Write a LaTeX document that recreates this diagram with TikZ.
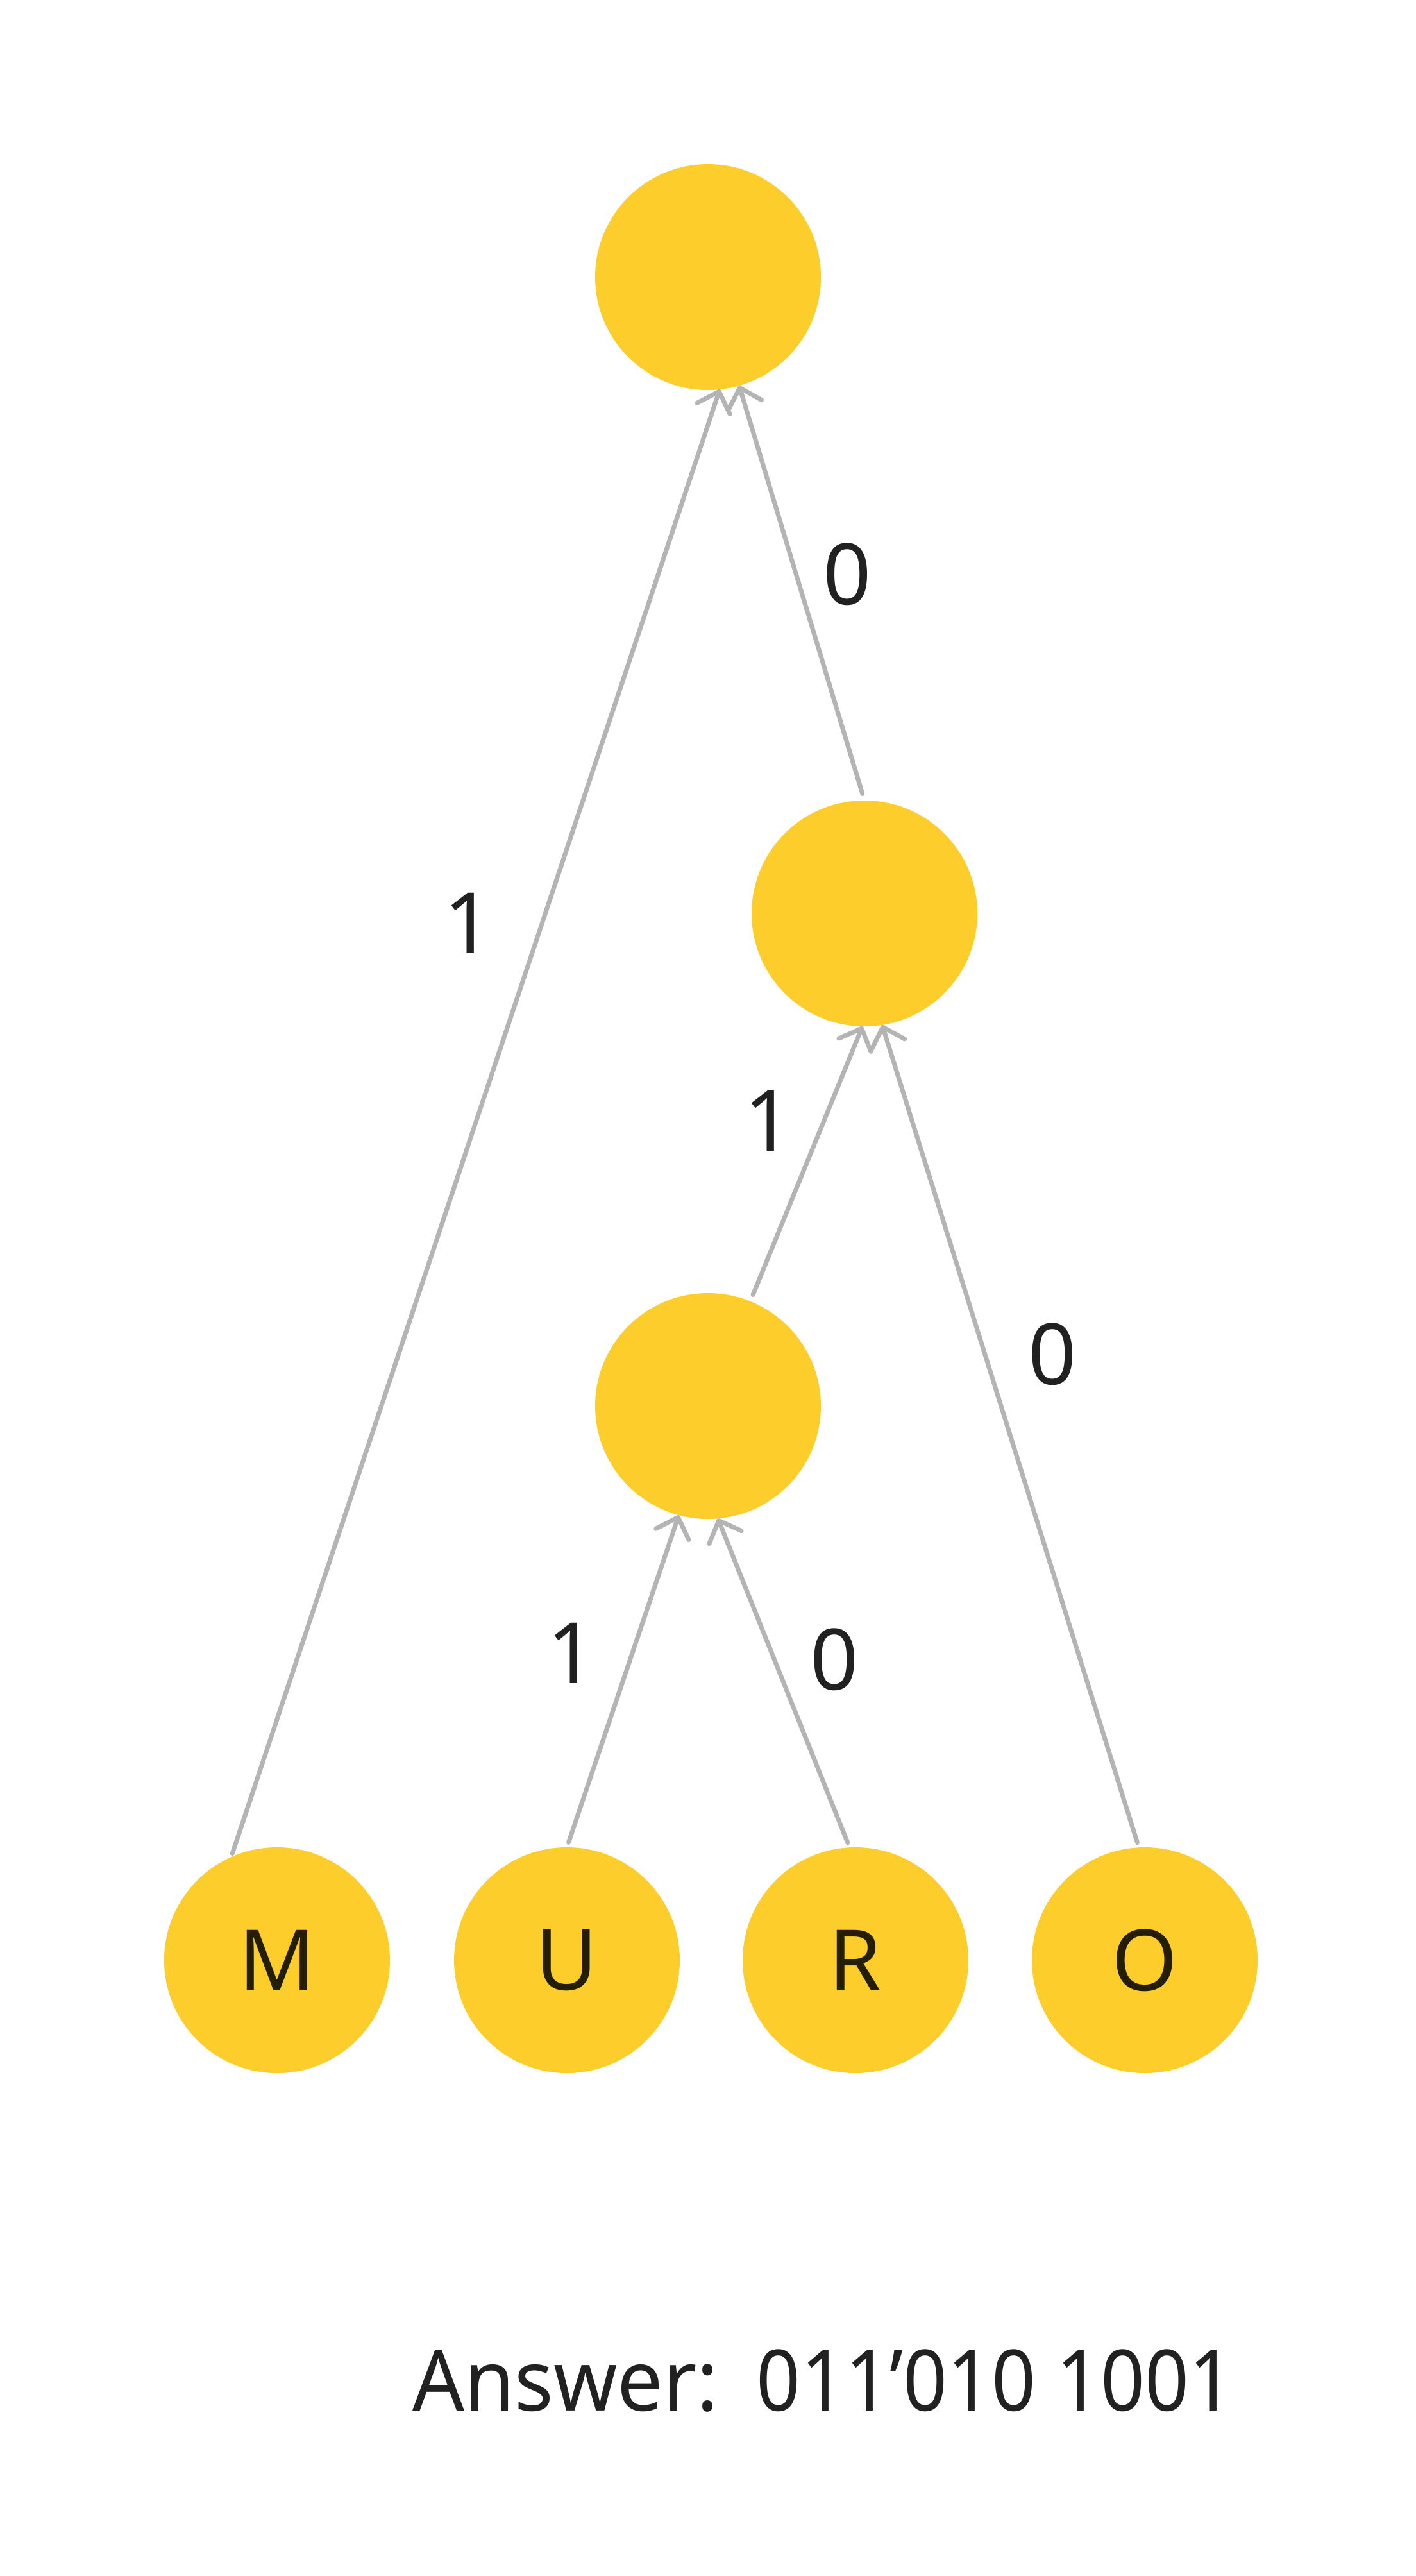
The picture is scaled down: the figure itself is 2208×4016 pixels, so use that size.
\documentclass[tikz,border=0pt]{standalone}
\usepackage{fontspec}
\setmainfont{Noto Sans}
\newfontfamily\answordfont{Noto Sans}[FakeStretch=0.96]
\newfontfamily\ansdigitfont{Noto Sans}[FakeStretch=0.915]
\usetikzlibrary{arrows.meta}
\definecolor{nodefill}{HTML}{FDCD2C}
\definecolor{edgegray}{HTML}{B4B4B4}
\definecolor{labelink}{HTML}{212121}
\newcommand\hfbig{\fontsize{132}{158}\selectfont}
\begin{document}
\begin{tikzpicture}[x=1pt,y=-1pt,
  hnode/.style={circle, fill=nodefill, minimum size=352pt, inner sep=0pt, outer sep=0pt,
    font=\hfbig, text=black, text opacity=0.85},
  conn/.style={draw=edgegray, line width=7pt, line cap=round,
    -{Straight Barb[length=28pt,width=54pt,line cap=round,line join=round]}},
  elabel/.style={font=\hfbig, text=labelink, inner sep=0pt}]
\useasboundingbox (0,0) rectangle (2208,4016);
\fill[white] (0,0) rectangle (2208,4016);
% nodes
\node[hnode] (root) at (1104,432) {};
\node[hnode] (n2) at (1348,1424) {};
\node[hnode] (n3) at (1104,2192) {};
\node[hnode] (M) at (432,3056) {M};
\node[hnode] (U) at (884,3056) {U};
\node[hnode] (R) at (1334,3056) {R};
\node[hnode] (O) at (1785,3056) {O};
% connectors
\draw[conn, shorten <=6pt] (M.114.3) -- (root.-84.8);
\draw[conn, shorten <=11pt] (n2.90.9) -- (root.-74.5);
\draw[conn, shorten <=11pt] (n3.68.7) -- (n2.-91.3);
\draw[conn, shorten <=8pt] (O.93.7) -- (n2.-81.1);
\draw[conn, shorten <=8pt] (U.90) -- (n3.-105.2);
\draw[conn, shorten <=8pt] (R.93.4) -- (n3.-85.1);
% labels
\node[elabel] (l1) at (730,1439) {1};
\node[elabel] (l2) at (1321,895) {0};
\node[elabel] (l3) at (1198,1747) {1};
\node[elabel] (l4) at (1641,2111) {0};
\node[elabel] (l5) at (891,2577) {1};
\node[elabel] (l6) at (1301,2587) {0};
\node[elabel, anchor=base west] (ans) at (643,3758)
  {{\answordfont\hfbig Answer:}\hspace{0.45em}{\ansdigitfont\hfbig 011’010 1001}};
\end{tikzpicture}
\end{document}
